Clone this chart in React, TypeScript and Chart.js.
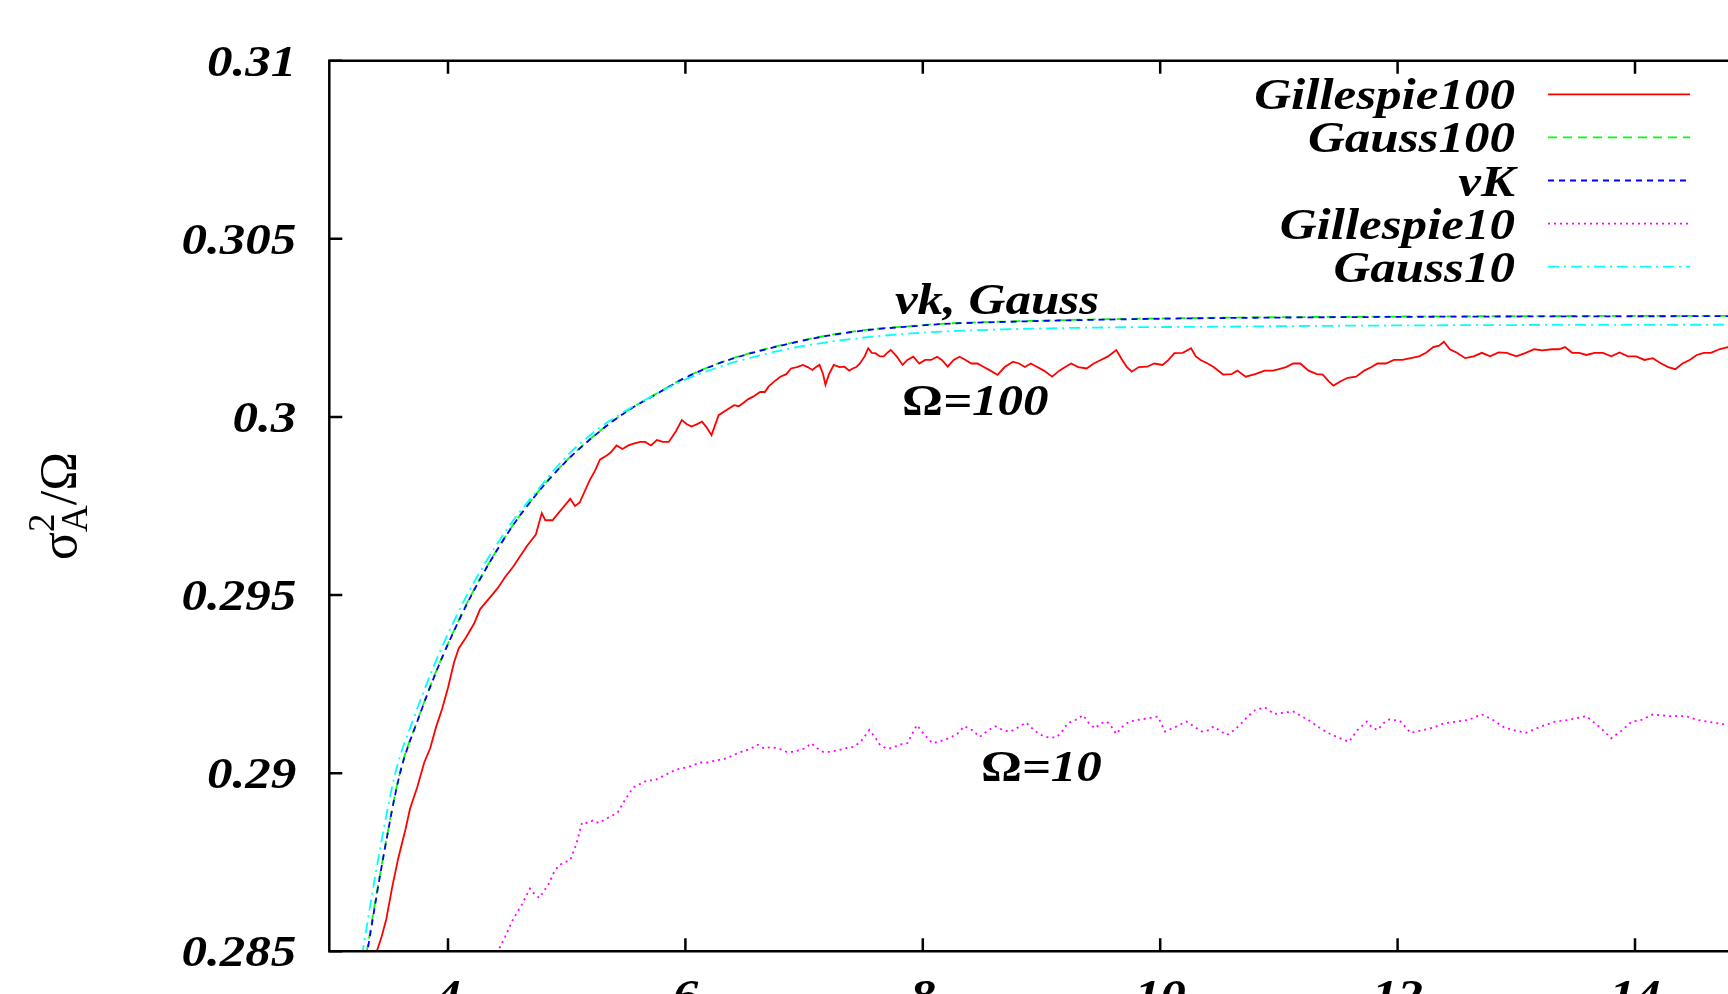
import React, { useEffect, useRef } from 'react';
import { Chart, registerables } from 'chart.js';

Chart.register(...registerables);

// ---------------- data ----------------
const seriesNames = ['Gillespie100', 'Gauss100', 'vK', 'Gillespie10', 'Gauss10'];

const xTicks = [4, 6, 8, 10, 12, 14];
const xTickLabels = ['4', '6', '8', '10', '12', '14'];
const yTicks = [0.285, 0.29, 0.295, 0.3, 0.305, 0.31];
const yTickLabels = ['0.285', '0.29', '0.295', '0.3', '0.305', '0.31'];

// Gillespie100 (noisy, red)
const gill100X = [3.38, 3.40, 3.44, 3.48, 3.53, 3.58, 3.64, 3.68, 3.74, 3.80, 3.85, 3.90, 3.95, 4.00, 4.05, 4.09, 4.15, 4.22, 4.27, 4.32, 4.37, 4.42, 4.48, 4.55, 4.61, 4.67, 4.74, 4.79, 4.82, 4.88, 4.93, 4.98, 5.03, 5.07, 5.11, 5.15, 5.19, 5.24, 5.28, 5.33, 5.37, 5.42, 5.47, 5.52, 5.57, 5.62, 5.66, 5.71, 5.76, 5.81, 5.86, 5.92, 5.97, 6.01, 6.05, 6.10, 6.14, 6.18, 6.22, 6.28, 6.35, 6.41, 6.45, 6.49, 6.53, 6.57, 6.63, 6.67, 6.70, 6.75, 6.80, 6.85, 6.89, 6.94, 6.99, 7.03, 7.07, 7.10, 7.13, 7.16, 7.18, 7.21, 7.25, 7.30, 7.34, 7.38, 7.41, 7.44, 7.47, 7.51, 7.54, 7.57, 7.60, 7.64, 7.67, 7.70, 7.73, 7.78, 7.83, 7.87, 7.92, 7.97, 8.02, 8.07, 8.12, 8.16, 8.21, 8.26, 8.31, 8.36, 8.41, 8.46, 8.51, 8.57, 8.63, 8.69, 8.76, 8.81, 8.86, 8.91, 8.96, 9.02, 9.09, 9.15, 9.20, 9.25, 9.31, 9.38, 9.44, 9.50, 9.56, 9.63, 9.68, 9.72, 9.76, 9.82, 9.89, 9.95, 10.02, 10.07, 10.12, 10.19, 10.26, 10.30, 10.34, 10.40, 10.45, 10.53, 10.60, 10.65, 10.72, 10.80, 10.88, 10.95, 11.00, 11.06, 11.12, 11.18, 11.25, 11.32, 11.37, 11.42, 11.46, 11.52, 11.58, 11.65, 11.72, 11.78, 11.83, 11.90, 11.97, 12.04, 12.11, 12.18, 12.24, 12.30, 12.35, 12.39, 12.44, 12.50, 12.57, 12.64, 12.71, 12.78, 12.85, 12.92, 13.00, 13.08, 13.15, 13.22, 13.30, 13.36, 13.41, 13.47, 13.53, 13.59, 13.66, 13.73, 13.80, 13.87, 13.94, 14.01, 14.08, 14.15, 14.22, 14.28, 14.34, 14.40, 14.46, 14.52, 14.58, 14.64, 14.71, 14.78, 14.85, 14.95];
const gill100Y = [0.2845, 0.2850, 0.2854, 0.2859, 0.2868, 0.2876, 0.2884, 0.2890, 0.2896, 0.2903, 0.2907, 0.2913, 0.2918, 0.2924, 0.2931, 0.2935, 0.2938, 0.2942, 0.2946, 0.2948, 0.2950, 0.2952, 0.2955, 0.2958, 0.2961, 0.2964, 0.2967, 0.2973, 0.2971, 0.2971, 0.2973, 0.2975, 0.2977, 0.2975, 0.2976, 0.2979, 0.2982, 0.2985, 0.2988, 0.2989, 0.2990, 0.2992, 0.2991, 0.2992, 0.29926, 0.2993, 0.2993, 0.2992, 0.29935, 0.2993, 0.2993, 0.2996, 0.29991, 0.2998, 0.29973, 0.2998, 0.29987, 0.2997, 0.29949, 0.30005, 0.3002, 0.30033, 0.3003, 0.3004, 0.3005, 0.30057, 0.3007, 0.3007, 0.30085, 0.3010, 0.30113, 0.3012, 0.30136, 0.3014, 0.30146, 0.3014, 0.30132, 0.3014, 0.30146, 0.3012, 0.30090, 0.3012, 0.30146, 0.3014, 0.30141, 0.3013, 0.30136, 0.3014, 0.3015, 0.3017, 0.30193, 0.3018, 0.30179, 0.3017, 0.3017, 0.3018, 0.30188, 0.3017, 0.30146, 0.3016, 0.30169, 0.3015, 0.30160, 0.3016, 0.30169, 0.3016, 0.30141, 0.3016, 0.30169, 0.3016, 0.30150, 0.3015, 0.30141, 0.3013, 0.30118, 0.3014, 0.30155, 0.3015, 0.3014, 0.3015, 0.30141, 0.3013, 0.30113, 0.3013, 0.3014, 0.30150, 0.3014, 0.30136, 0.3015, 0.30160, 0.3017, 0.30188, 0.3016, 0.3014, 0.30127, 0.3014, 0.30141, 0.3015, 0.30146, 0.3016, 0.30179, 0.3018, 0.30193, 0.3017, 0.30160, 0.3015, 0.3014, 0.30119, 0.3012, 0.3013, 0.30113, 0.3012, 0.3013, 0.3013, 0.30134, 0.3014, 0.3015, 0.3015, 0.3013, 0.3012, 0.30119, 0.3010, 0.30088, 0.3010, 0.3011, 0.30113, 0.3013, 0.3014, 0.3015, 0.3015, 0.3016, 0.3016, 0.30165, 0.3017, 0.3018, 0.30196, 0.3020, 0.30211, 0.3019, 0.3018, 0.30165, 0.3017, 0.3018, 0.3017, 0.30181, 0.3018, 0.3017, 0.3018, 0.3019, 0.30187, 0.3019, 0.3019, 0.30196, 0.3018, 0.3018, 0.30174, 0.3018, 0.3018, 0.3017, 0.30181, 0.3017, 0.3017, 0.3016, 0.30165, 0.3015, 0.3014, 0.30134, 0.3015, 0.3016, 0.30174, 0.3018, 0.3018, 0.3019, 0.30196, 0.3019, 0.3018];

// Gauss100 (green dashed)
const gauss100X = [3.25, 3.321, 3.45, 3.596, 3.75, 3.9, 4.0, 4.198, 4.5, 4.75, 5.0, 5.28, 5.5, 5.764, 6.0, 6.248, 6.5, 6.893, 7.2, 7.538, 7.85, 8.18, 8.827, 9.5, 10.335, 11.5, 13, 15];
const gauss100Y = [0.2837, 0.2851, 0.28758, 0.29003, 0.29155, 0.29286, 0.29364, 0.29502, 0.29673, 0.29786, 0.29878, 0.29961, 0.30015, 0.30067, 0.30111, 0.30147, 0.30175, 0.30208, 0.30229, 0.30245, 0.30254, 0.30262, 0.30269, 0.30274, 0.30278, 0.30281, 0.30283, 0.30284];

// vK (blue dashed)
const vkX = [3.25, 3.321, 3.45, 3.596, 3.75, 3.9, 4.0, 4.198, 4.5, 4.75, 5.0, 5.28, 5.5, 5.764, 6.0, 6.248, 6.5, 6.893, 7.2, 7.538, 7.85, 8.18, 8.827, 9.5, 10.335, 11.5, 13, 15];
const vkY = [0.2836, 0.2850, 0.28755, 0.2900, 0.29153, 0.29284, 0.29362, 0.2950, 0.29672, 0.29785, 0.29877, 0.2996, 0.30014, 0.30066, 0.3011, 0.30146, 0.30174, 0.30207, 0.30228, 0.30244, 0.30253, 0.30261, 0.30268, 0.30273, 0.30277, 0.3028, 0.30282, 0.30283];

// Gillespie10 (magenta dotted)
const gill10X = [4.38, 4.42, 4.48, 4.55, 4.62, 4.69, 4.73, 4.77, 4.81, 4.85, 4.89, 4.93, 4.98, 5.03, 5.08, 5.13, 5.18, 5.22, 5.27, 5.32, 5.38, 5.43, 5.50, 5.56, 5.62, 5.68, 5.74, 5.80, 5.86, 5.92, 5.98, 6.05, 6.12, 6.19, 6.26, 6.33, 6.40, 6.47, 6.54, 6.61, 6.66, 6.72, 6.78, 6.85, 6.91, 6.966, 7.01, 7.06, 7.11, 7.16, 7.22, 7.29, 7.35, 7.42, 7.48, 7.55, 7.60, 7.64, 7.69, 7.74, 7.80, 7.87, 7.91, 7.95, 8.01, 8.08, 8.15, 8.22, 8.29, 8.35, 8.42, 8.48, 8.55, 8.61, 8.68, 8.74, 8.81, 8.87, 8.94, 9.00, 9.06, 9.13, 9.18, 9.22, 9.29, 9.35, 9.40, 9.45, 9.50, 9.55, 9.59, 9.63, 9.68, 9.74, 9.82, 9.90, 9.98, 10.04, 10.13, 10.22, 10.29, 10.35, 10.40, 10.45, 10.50, 10.56, 10.62, 10.67, 10.74, 10.80, 10.88, 10.96, 11.04, 11.12, 11.19, 11.25, 11.33, 11.42, 11.50, 11.59, 11.66, 11.74, 11.78, 11.83, 11.88, 11.93, 12.02, 12.11, 12.20, 12.30, 12.39, 12.48, 12.60, 12.71, 12.80, 12.90, 12.99, 13.08, 13.20, 13.32, 13.45, 13.59, 13.70, 13.80, 13.89, 13.97, 14.06, 14.15, 14.29, 14.43, 14.52, 14.62, 14.70, 14.78, 14.90];
const gill10Y = [0.2848, 0.2850, 0.2854, 0.28591, 0.2863, 0.28676, 0.2866, 0.2865, 0.2867, 0.2869, 0.2872, 0.2874, 0.2875, 0.28756, 0.2880, 0.28862, 0.2886, 0.28867, 0.2886, 0.2887, 0.2888, 0.2889, 0.2893, 0.2896, 0.2897, 0.2898, 0.2898, 0.2899, 0.2900, 0.2901, 0.29014, 0.2902, 0.2903, 0.2903, 0.29036, 0.2904, 0.2905, 0.2906, 0.29067, 0.2908, 0.2907, 0.29073, 0.2907, 0.2906, 0.2906, 0.29065, 0.2907, 0.29084, 0.2907, 0.2906, 0.2906, 0.29065, 0.2907, 0.29074, 0.2909, 0.29121, 0.2910, 0.29079, 0.2907, 0.2907, 0.2908, 0.29084, 0.2911, 0.29135, 0.2911, 0.29084, 0.2909, 0.29098, 0.2911, 0.29132, 0.2912, 0.29102, 0.2912, 0.29132, 0.2912, 0.29117, 0.2913, 0.29142, 0.2912, 0.29107, 0.2910, 0.29101, 0.2912, 0.2914, 0.2915, 0.29163, 0.2914, 0.29126, 0.2914, 0.29145, 0.2913, 0.2911, 0.2913, 0.29145, 0.2915, 0.29154, 0.29159, 0.29117, 0.2913, 0.29145, 0.2913, 0.29117, 0.2912, 0.29131, 0.2912, 0.29107, 0.2912, 0.29135, 0.2916, 0.29177, 0.29185, 0.29166, 0.2917, 0.29173, 0.2916, 0.29149, 0.2913, 0.29112, 0.2910, 0.29088, 0.2912, 0.29145, 0.2913, 0.29121, 0.2914, 0.29151, 0.29147, 0.29113, 0.2912, 0.29128, 0.2914, 0.29144, 0.2915, 0.29165, 0.2915, 0.29128, 0.2912, 0.29113, 0.2913, 0.29144, 0.2915, 0.29160, 0.2913, 0.29098, 0.2912, 0.29144, 0.2915, 0.29165, 0.2916, 0.29160, 0.2915, 0.29144, 0.2914, 0.29135, 0.2914];

// Gauss10 (cyan dash-dot)
const gauss10X = [3.21, 3.281, 3.41, 3.556, 3.71, 3.86, 3.96, 4.16, 4.47, 4.73, 5.0, 5.28, 5.5, 5.764, 6.0, 6.248, 6.5, 6.893, 7.2, 7.538, 7.85, 8.18, 8.827, 9.5, 10.335, 11.5, 13, 15];
const gauss10Y = [0.2836, 0.2850, 0.28755, 0.2900, 0.29153, 0.29284, 0.29362, 0.2950, 0.29672, 0.29785, 0.2989, 0.2997, 0.30018, 0.30066, 0.30105, 0.30136, 0.30162, 0.30193, 0.3021, 0.30224, 0.30233, 0.3024, 0.30247, 0.30251, 0.30253, 0.30256, 0.30258, 0.30259];

// in-plot labels (data coordinates of text centre / baseline)
const noteX = [8.625, 8.442, 8.999];
const noteY = [0.30289, 0.30005, 0.28978];

// ---------------- drawing helpers ----------------
const SERIF = '"Liberation Serif", "Times New Roman", serif';
const BI = `italic bold 44px ${SERIF}`;
const BU = `bold 44px ${SERIF}`;
const STRETCH = 1.16;

type Run = { text: string; font: string };

function drawRuns(ctx: CanvasRenderingContext2D, runs: Run[], x: number, y: number, align: string) {
  const widths = runs.map((r) => {
    ctx.font = r.font;
    return ctx.measureText(r.text).width * STRETCH;
  });
  const total = widths.reduce((a, b) => a + b, 0);
  let cx = align === 'center' ? x - total / 2 : align === 'right' ? x - total : x;
  runs.forEach((r, i) => {
    ctx.save();
    ctx.font = r.font;
    ctx.textAlign = 'left';
    ctx.textBaseline = 'alphabetic';
    ctx.translate(cx, y);
    ctx.scale(STRETCH, 1);
    ctx.fillText(r.text, 0, 0);
    ctx.restore();
    cx += widths[i];
  });
}

const notes: Run[][] = [
  [{ text: 'vk, Gauss', font: BI }],
  [{ text: 'Ω', font: BU }, { text: '=100', font: BI }],
  [{ text: 'Ω', font: BU }, { text: '=10', font: BI }],
];

const framePlugin = {
  id: 'gnuFrame',
  afterDatasetsDraw(chart: any) {
    const { ctx, chartArea: a, scales } = chart;
    const xs = scales.x;
    const ys = scales.y;
    ctx.save();
    // border
    ctx.strokeStyle = '#000';
    ctx.lineWidth = 2.5;
    ctx.beginPath();
    ctx.rect(a.left, a.top, a.right - a.left, a.bottom - a.top);
    ctx.stroke();
    // inward ticks
    const TL = 13;
    ctx.beginPath();
    xs.ticks.forEach((t: any) => {
      const px = xs.getPixelForValue(t.value);
      ctx.moveTo(px, a.bottom);
      ctx.lineTo(px, a.bottom - TL);
      ctx.moveTo(px, a.top);
      ctx.lineTo(px, a.top + TL);
    });
    ys.ticks.forEach((t: any) => {
      const py = ys.getPixelForValue(t.value);
      ctx.moveTo(a.left, py);
      ctx.lineTo(a.left + TL, py);
      ctx.moveTo(a.right, py);
      ctx.lineTo(a.right - TL, py);
    });
    ctx.stroke();

    ctx.fillStyle = '#000';
    // tick labels
    ys.ticks.forEach((t: any) => {
      const py = ys.getPixelForValue(t.value);
      drawRuns(ctx, [{ text: String(t.label), font: BI }], a.left - 33, py + 15, 'right');
    });
    xs.ticks.forEach((t: any) => {
      const px = xs.getPixelForValue(t.value);
      drawRuns(ctx, [{ text: String(t.label), font: BI }], px, a.bottom + 59, 'center');
    });

    // key (gnuplot style: right-aligned text, sample to the right)
    chart.data.datasets.forEach((ds: any, i: number) => {
      const yy = a.top + 33.6 + 43.1 * i;
      drawRuns(ctx, [{ text: ds.label, font: BI }], a.right - 238.7, yy + 15, 'right');
      ctx.save();
      ctx.strokeStyle = ds.borderColor;
      ctx.lineWidth = ds.borderWidth;
      ctx.setLineDash(ds.borderDash || []);
      ctx.beginPath();
      ctx.moveTo(a.right - 205.7, yy);
      ctx.lineTo(a.right - 63.7, yy);
      ctx.stroke();
      ctx.restore();
    });

    // in-plot labels
    notes.forEach((runs, i) => {
      drawRuns(ctx, runs, xs.getPixelForValue(noteX[i]), ys.getPixelForValue(noteY[i]), 'center');
    });

    // y-axis title  sigma_A^2 / Omega, rotated
    ctx.save();
    ctx.translate(76, (a.top + a.bottom) / 2);
    ctx.rotate(-Math.PI / 2);
    const big = `52px ${SERIF}`;
    const small = `37px ${SERIF}`;
    ctx.font = big;
    const wS = ctx.measureText('σ').width;
    ctx.font = small;
    const wA = ctx.measureText('A').width;
    const w2 = ctx.measureText('2').width;
    const wScript = Math.max(wA, w2);
    ctx.font = big;
    const wR = ctx.measureText('/Ω').width;
    const total = wS + wScript + wR;
    let cx = -total / 2;
    ctx.textBaseline = 'alphabetic';
    ctx.textAlign = 'left';
    ctx.font = big;
    ctx.fillText('σ', cx, 0);
    cx += wS;
    ctx.font = small;
    ctx.fillText('2', cx, -22);
    ctx.fillText('A', cx, 11);
    cx += wScript;
    ctx.font = big;
    ctx.fillText('/Ω', cx, 0);
    ctx.restore();

    ctx.restore();
  },
};

const CANVAS_W = 1800;
const CANVAS_H = 1060;

function pts(xs: number[], ys: number[]) {
  return xs.map((x, i) => ({ x, y: ys[i] }));
}

export default function App() {
  const ref = useRef<HTMLCanvasElement | null>(null);

  useEffect(() => {
    if (!ref.current) return;
    const colors = ['#ff0000', '#00ff00', '#0000ff', '#ff00ff', '#00ffff'];
    const dashes = [[], [9, 6], [6, 5], [2, 4], [11, 5, 2, 5]];
    const xsArr = [gill100X, gauss100X, vkX, gill10X, gauss10X];
    const ysArr = [gill100Y, gauss100Y, vkY, gill10Y, gauss10Y];
    const smooth = [false, true, true, false, true];
    const datasets = seriesNames.map((name, i) => ({
      label: name,
      data: pts(xsArr[i], ysArr[i]),
      borderColor: colors[i],
      backgroundColor: colors[i],
      borderWidth: 1.8,
      borderDash: dashes[i],
      pointRadius: 0,
      fill: false,
      tension: 0,
      cubicInterpolationMode: smooth[i] ? 'monotone' : 'default',
      order: 5 - i,
    }));

    const chart = new Chart(ref.current, {
      type: 'line',
      data: { datasets },
      options: {
        animation: false,
        responsive: false,
        devicePixelRatio: 1,
        events: [],
        layout: { padding: { top: 60.7, right: 46.3, bottom: 0, left: 0 } },
        plugins: { legend: { display: false }, tooltip: { enabled: false }, title: { display: false } },
        scales: {
          x: {
            type: 'linear',
            min: 3,
            max: 15,
            grid: { display: false },
            border: { display: false },
            ticks: {
              display: false,
              callback: (v: any) => {
                const k = xTicks.indexOf(Number(v));
                return k >= 0 ? xTickLabels[k] : '';
              },
            },
            afterBuildTicks: (s: any) => {
              s.ticks = xTicks.map((v) => ({ value: v }));
            },
            afterFit: (s: any) => {
              s.height = CANVAS_H - 951.3;
            },
          },
          y: {
            type: 'linear',
            min: 0.285,
            max: 0.31,
            grid: { display: false },
            border: { display: false },
            ticks: {
              display: false,
              callback: (v: any) => {
                const k = yTicks.findIndex((t) => Math.abs(t - Number(v)) < 1e-9);
                return k >= 0 ? yTickLabels[k] : '';
              },
            },
            afterBuildTicks: (s: any) => {
              s.ticks = yTicks.map((v) => ({ value: v }));
            },
            afterFit: (s: any) => {
              s.width = 329.3;
            },
          },
        },
      },
      plugins: [framePlugin],
    } as any);
    return () => chart.destroy();
  }, []);

  return (
    <div
      style={{
        position: 'fixed',
        left: 0,
        top: 0,
        width: 1728,
        height: 994,
        overflow: 'hidden',
        background: '#ffffff',
      }}
    >
      <canvas
        ref={ref}
        width={CANVAS_W}
        height={CANVAS_H}
        style={{ display: 'block', width: CANVAS_W, height: CANVAS_H }}
      />
    </div>
  );
}
